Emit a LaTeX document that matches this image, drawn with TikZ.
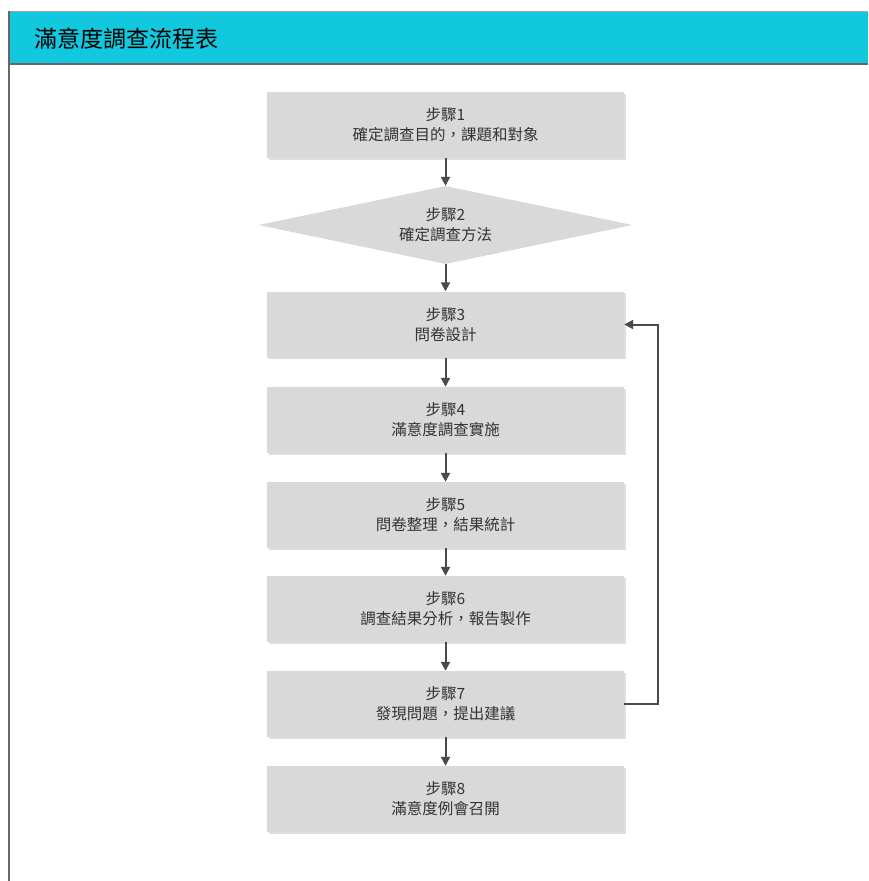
\documentclass[tikz,border=0pt]{standalone}
\usepackage{fontspec}
\setmainfont{Noto Sans CJK TC}
\usetikzlibrary{shapes.geometric,arrows.meta,shadows}
\definecolor{headcyan}{HTML}{12C8DE}
\definecolor{boxgray}{HTML}{D9D9D9}
\definecolor{linegray}{HTML}{4A4A4A}
\tikzset{
  stepbox/.style={rectangle, fill=boxgray, minimum width=357pt, minimum height=66pt, align=center, font=\fontsize{15.5pt}{20pt}\selectfont, text=black!80, drop shadow={shadow xshift=1.5pt, shadow yshift=-1.5pt, opacity=0.25}},
  stepdiamond/.style={diamond, fill=boxgray, minimum width=374pt, minimum height=78pt, aspect=4.8, inner sep=0pt, align=center, font=\fontsize{15.5pt}{20pt}\selectfont, text=black!80},
  flow/.style={draw=linegray, line width=2pt, -{Triangle[length=9pt,width=9pt]}}
}
\begin{document}
\begin{tikzpicture}[x=1pt,y=-1pt]
\useasboundingbox (0,0) rectangle (868,881);
\fill[white] (0,0) rectangle (868,881);
% header
\fill[headcyan] (9,11) rectangle (868,64);
\draw[gray!70, line width=1pt] (9,11) -- (868,11);
\draw[gray!80!black, line width=2pt] (9,64) -- (868,64);
\draw[gray!80!black, line width=1.5pt] (9,11) -- (9,881);
\node[anchor=west, font=\fontsize{23pt}{26pt}\selectfont] (title) at (31,39) {滿意度調查流程表};
% steps
\node[stepbox] (s1) at (445.5,125) {步驟1\\確定調查目的，課題和對象};
\node[stepdiamond] (s2) at (445.5,225) {步驟2\\確定調查方法};
\node[stepbox] (s3) at (445.5,324.5) {步驟3\\問卷設計};
\node[stepbox] (s4) at (445.5,420) {步驟4\\滿意度調查實施};
\node[stepbox] (s5) at (445.5,515) {步驟5\\問卷整理，結果統計};
\node[stepbox] (s6) at (445.5,609) {步驟6\\調查結果分析，報告製作};
\node[stepbox] (s7) at (445.5,704) {步驟7\\發現問題，提出建議};
\node[stepbox] (s8) at (445.5,799) {步驟8\\滿意度例會召開};
% arrows
\draw[flow] (s1) -- (s2);
\draw[flow] (s2) -- (s3);
\draw[flow] (s3) -- (s4);
\draw[flow] (s4) -- (s5);
\draw[flow] (s5) -- (s6);
\draw[flow] (s6) -- (s7);
\draw[flow] (s7) -- (s8);
\coordinate (fb) at (658,0);
\draw[flow] (s7.east) -- (s7.east -| fb) -- (s3.east -| fb) -- (s3.east);
\end{tikzpicture}
\end{document}
